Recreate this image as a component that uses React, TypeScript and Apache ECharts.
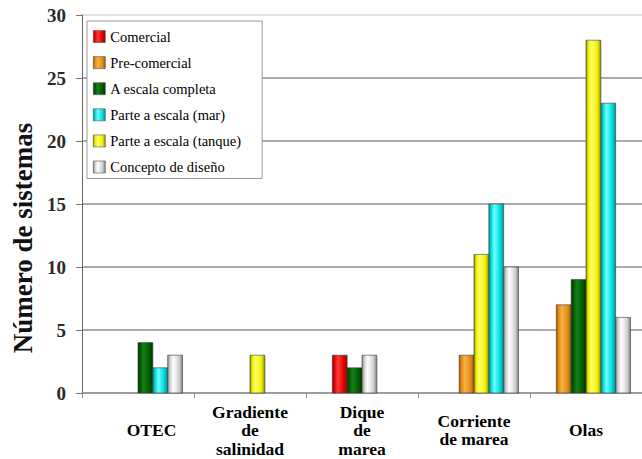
import React, { useEffect, useRef } from "react";
import * as echarts from "echarts";

// ---- data ----
const categories = ["OTEC", "Gradiente\nde\nsalinidad", "Dique\nde\nmarea", "Corriente\nde marea", "Olas"];
const seriesNames = [
  "Comercial",
  "Pre-comercial",
  "A escala completa",
  "Parte a escala (mar)",
  "Parte a escala (tanque)",
  "Concepto de diseño",
];
const comercial = [0, 0, 3, 0, 0];
const preComercial = [0, 0, 0, 3, 7];
const escalaCompleta = [4, 0, 2, 0, 9];
const escalaMar = [2, 0, 0, 15, 23];
const escalaTanque = [0, 3, 0, 11, 28];
const conceptoDiseno = [3, 0, 3, 10, 6];
const yAxisName = "Número de sistemas";

// ---- layout (slot index of each bar within a group of 6) ----
const slotLayout = [
  [0, 0, 1, 0, 0],
  [0, 0, 0, 2, 1],
  [3, 0, 2, 0, 2],
  [4, 0, 0, 4, 4],
  [0, 3, 0, 3, 3],
  [5, 0, 3, 5, 5],
];
const BAR_FRACTION = 15 / 113.2;

// ---- styles ----
const palette = [
  ["#9a0000", "#e00000", "#ff3a3a"],
  ["#a05800", "#e08a10", "#f6b246"],
  ["#003000", "#005a00", "#168016"],
  ["#009090", "#00d8d8", "#6affff"],
  ["#8c8c00", "#eeee00", "#ffff6a"],
  ["#808080", "#cfcfcf", "#ffffff"],
];
const FONT = "Liberation Serif";

const makeGrad = (c: string[]) =>
  new echarts.graphic.LinearGradient(0, 0, 1, 0, [
    { offset: 0, color: c[0] },
    { offset: 0.15, color: c[1] },
    { offset: 0.38, color: c[2] },
    { offset: 0.78, color: c[1] },
    { offset: 1, color: c[0] },
  ]);

export default function App() {
  const ref = useRef<HTMLDivElement>(null);
  useEffect(() => {
    if (!ref.current) return;
    const chart = echarts.init(ref.current, undefined, { renderer: "svg" });
    const values = [comercial, preComercial, escalaCompleta, escalaMar, escalaTanque, conceptoDiseno];

    const series = seriesNames.map((name, s) => {
      const grad = makeGrad(palette[s]);
      return {
        type: "custom",
        name,
        itemStyle: { color: grad, borderColor: "#444", borderWidth: 0.6 },
        encode: { x: 0, y: 1 },
        data: values[s].map((v, i) => [i, v, slotLayout[s][i]]),
        renderItem: (params: any, api: any) => {
          const cat = api.value(0);
          const val = api.value(1);
          const slot = api.value(2);
          if (!val) return null;
          const base = api.coord([cat, 0]);
          const top = api.coord([cat, val]);
          const band = api.size([1, 0])[0];
          const w = band * BAR_FRACTION;
          const x = base[0] + (slot - 3) * w;
          return {
            type: "rect",
            shape: { x, y: top[1], width: w, height: base[1] - top[1] },
            style: { fill: makeGrad(palette[s]), stroke: "#3a3a3a", lineWidth: 0.6 },
          };
        },
      };
    });

    chart.setOption({
      animation: false,
      backgroundColor: "#ffffff",
      textStyle: { fontFamily: FONT },
      grid: { left: 82, right: -6, top: 15, bottom: 66 },
      legend: {
        orient: "vertical",
        left: 87,
        top: 21,
        padding: [8, 21, 4, 6],
        itemGap: 11.1,
        itemWidth: 12,
        itemHeight: 12,
        icon: "rect",
        backgroundColor: "#ffffff",
        borderColor: "#999999",
        borderWidth: 1,
        textStyle: { fontFamily: FONT, fontSize: 14.5, color: "#000", lineHeight: 14 },
        data: seriesNames.map((name, s) => ({
          name,
          itemStyle: { color: makeGrad(palette[s]), borderColor: "#555", borderWidth: 0.6 },
        })),
      },
      xAxis: {
        type: "category",
        data: categories,
        axisLine: { lineStyle: { color: "#9a9a9a", width: 1.5 } },
        axisTick: { show: true, length: 5, lineStyle: { color: "#888" } },
        axisLabel: {
          interval: 0,
          verticalAlign: "middle",
          margin: 37,
          lineHeight: 18.5,
          fontFamily: FONT,
          fontWeight: "bold",
          fontSize: 17.5,
          color: "#000",
          formatter: (v: string) => (v === "OTEC" ? "{o|OTEC}" : v),
          rich: {
            o: {
              padding: [0, 0, 0, 27],
              fontFamily: FONT,
              fontWeight: "bold",
              fontSize: 17.5,
              color: "#000",
            },
          },
        },
      },
      yAxis: {
        type: "value",
        min: 0,
        max: 30,
        interval: 5,
        axisLine: { show: true, lineStyle: { color: "#666", width: 1 } },
        axisTick: { show: true, length: 6, lineStyle: { color: "#777" } },
        axisLabel: {
          margin: 16,
          fontFamily: FONT,
          fontWeight: "bold",
          fontSize: 19,
          color: "#2a2a2a",
        },
        splitLine: {
          show: true,
          lineStyle: {
            color: ["#aaaaaa", "#aaaaaa", "#aaaaaa", "#aaaaaa", "#aaaaaa", "#aaaaaa", "#e4e4e4"],
            width: 1.8,
          },
        },
      },
      graphic: [
        {
          type: "text",
          x: 23,
          y: 238,
          rotation: Math.PI / 2,
          style: {
            text: yAxisName,
            fontFamily: FONT,
            fontWeight: "bold",
            fontSize: 27,
            fill: "#111",
            textAlign: "center",
            textVerticalAlign: "middle",
          },
        },
      ],
      series,
    });
    return () => chart.dispose();
  }, []);
  return (
    <div
      ref={ref}
      style={{ position: "absolute", left: 0, top: 0, width: 642, height: 459 }}
    />
  );
}
